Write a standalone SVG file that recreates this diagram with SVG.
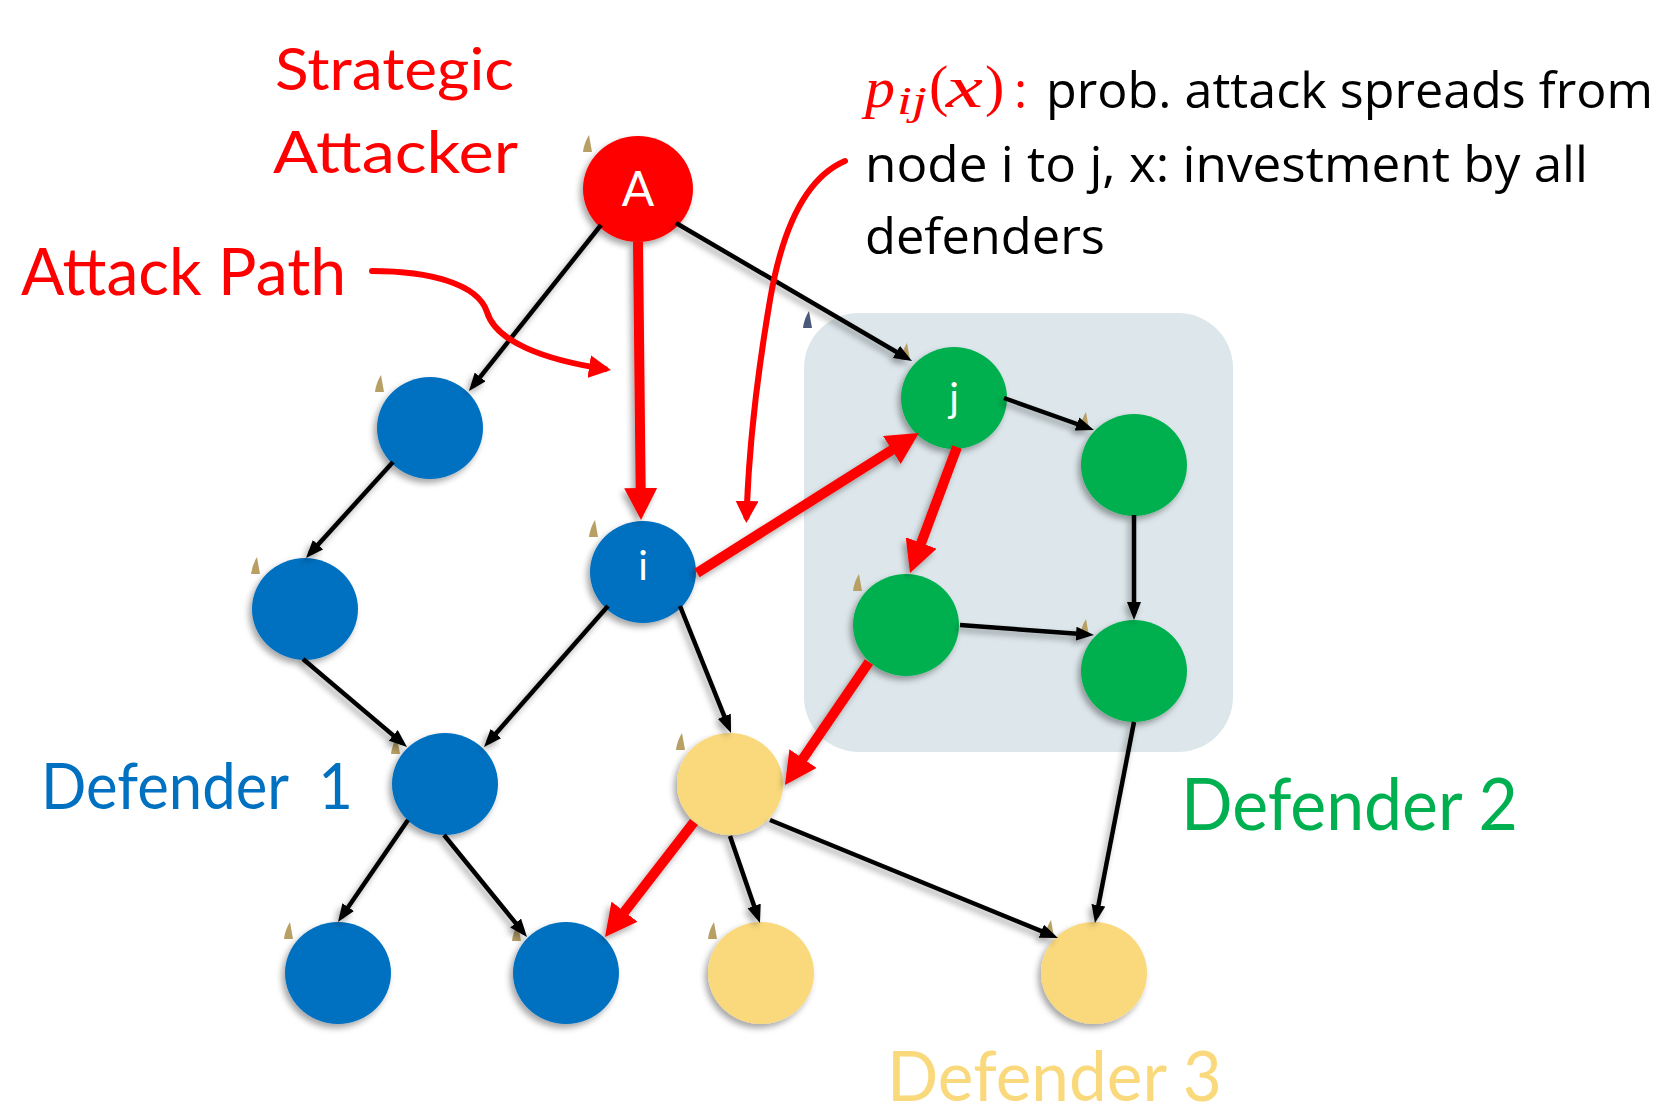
<svg xmlns="http://www.w3.org/2000/svg" xmlns:xlink="http://www.w3.org/1999/xlink" width="1666" height="1115" viewBox="0 0 1666 1115">
<style>
.lbl{font-family:Lato,"Open Sans","Liberation Sans",sans-serif;}
.nlab{font-family:Lato,"Open Sans","Liberation Sans",sans-serif;fill:#fff;text-anchor:middle;}
.blk{stroke:#000;stroke-width:4.5;fill:none;marker-end:url(#ab);}
.red{stroke:#FF0000;stroke-width:10;fill:none;marker-end:url(#ar);}
.ann{stroke:#FF0000;stroke-width:6;fill:none;stroke-linecap:round;marker-end:url(#aa);}
.blue{fill:#0070C0;}
.green{fill:#00B050;}
.yellow{fill:#FAD97C;}
.note{font-family:"Open Sans","Noto Sans","Liberation Sans",sans-serif;font-size:50px;fill:#000;}
.math{font-family:"Liberation Serif",serif;fill:#FF0000;}
.mk{fill:#B8A064;}
</style>
<defs>
<filter id="sh" x="-30%" y="-30%" width="160%" height="160%">
<feDropShadow dx="-3" dy="4" stdDeviation="3" flood-color="#000" flood-opacity="0.35"/>
</filter>
<marker id="ab" markerUnits="userSpaceOnUse" markerWidth="18" markerHeight="14" refX="12" refY="7" orient="auto">
<path d="M0,0 L18,7 L0,14 Z" fill="#000"/>
</marker>
<marker id="ar" markerUnits="userSpaceOnUse" markerWidth="32" markerHeight="33" refX="22" refY="16.5" orient="auto">
<path d="M0,0 L32,16.5 L0,33 Z" fill="#FF0000"/>
</marker>
<marker id="aa" markerUnits="userSpaceOnUse" markerWidth="22" markerHeight="23" refX="16" refY="11.5" orient="auto">
<path d="M0,0 L22,11.5 L0,23 Z" fill="#FF0000"/>
</marker>
<path id="mkp" d="M6,0 L9,17 L0,17 Q1,8 6,0 Z"/>
</defs>
<rect width="1666" height="1115" fill="#fff"/>

<g id="defender2-region">
<rect x="804" y="313" width="429" height="439" rx="55" ry="55" fill="#DDE7EB"/>
</g>

<g id="marks" class="mk">
<use href="#mkp" x="583" y="135"/>
<use href="#mkp" x="375" y="375"/>
<use href="#mkp" x="251" y="557"/>
<use href="#mkp" x="589" y="520"/>
<use href="#mkp" x="901" y="343"/>
<use href="#mkp" x="803" y="311" fill="#4B5A7A"/>
<use href="#mkp" x="1080" y="412"/>
<use href="#mkp" x="853" y="574"/>
<use href="#mkp" x="1080" y="619"/>
<use href="#mkp" x="676" y="733"/>
<use href="#mkp" x="391" y="737"/>
<use href="#mkp" x="284" y="922"/>
<use href="#mkp" x="512" y="924"/>
<use href="#mkp" x="708" y="922"/>
<use href="#mkp" x="1045" y="920"/>
</g>

<g id="nodes" filter="url(#sh)">
<g id="node-A"><ellipse cx="638" cy="189" rx="55" ry="53" fill="#FF0000"/></g>
<g id="node-b1"><ellipse class="blue" cx="430" cy="428" rx="53" ry="51"/></g>
<g id="node-b2"><ellipse class="blue" cx="305" cy="609" rx="53" ry="51"/></g>
<g id="node-i"><ellipse class="blue" cx="643" cy="572" rx="53" ry="51"/></g>
<g id="node-j"><ellipse class="green" cx="954" cy="398" rx="53" ry="51"/></g>
<g id="node-g2"><ellipse class="green" cx="1134" cy="465" rx="53" ry="51"/></g>
<g id="node-g3"><ellipse class="green" cx="906" cy="625" rx="53" ry="51"/></g>
<g id="node-g4"><ellipse class="green" cx="1134" cy="671" rx="53" ry="51"/></g>
<g id="node-b3"><ellipse class="blue" cx="445" cy="784" rx="53" ry="51"/></g>
<g id="node-y1"><ellipse class="yellow" cx="730" cy="784" rx="53" ry="51"/></g>
<g id="node-b4"><ellipse class="blue" cx="338" cy="973" rx="53" ry="51"/></g>
<g id="node-b5"><ellipse class="blue" cx="566" cy="973" rx="53" ry="51"/></g>
<g id="node-y2"><ellipse class="yellow" cx="761" cy="973" rx="53" ry="51"/></g>
<g id="node-y3"><ellipse class="yellow" cx="1094" cy="973" rx="53" ry="51"/></g>
</g>

<g id="node-labels">
<text class="nlab" x="638" y="206" font-size="48">A</text>
<text class="nlab" x="643" y="580" font-size="40">i</text>
<text class="nlab" x="954" y="412" font-size="40">j</text>
</g>

<g id="connectors" filter="url(#sh)">
<line class="blk" x1="601" y1="225" x2="472.7" y2="386.3"/>
<line class="blk" x1="676" y1="223" x2="906.8" y2="358"/>
<line class="blk" x1="393" y1="462" x2="310" y2="553.6"/>
<line class="blk" x1="303" y1="659" x2="402.4" y2="743.1"/>
<line class="blk" x1="608" y1="606" x2="488" y2="742.5"/>
<line class="blk" x1="680" y1="606" x2="728.8" y2="727.4"/>
<line class="blk" x1="1004" y1="398" x2="1088.3" y2="428"/>
<line class="blk" x1="1134" y1="515" x2="1134" y2="614"/>
<line class="blk" x1="960" y1="625" x2="1088" y2="634.6"/>
<line class="blk" x1="1134" y1="722" x2="1096.1" y2="917.1"/>
<line class="blk" x1="408" y1="820" x2="341.4" y2="917"/>
<line class="blk" x1="444" y1="835" x2="523.2" y2="932.3"/>
<line class="blk" x1="730" y1="836" x2="758" y2="917.3"/>
<line class="blk" x1="770" y1="820" x2="1052.4" y2="935.7"/>
<line class="red" x1="638" y1="242" x2="640.9" y2="510"/>
<line class="red" x1="697" y1="573" x2="910.5" y2="438.3"/>
<line class="red" x1="957" y1="447" x2="913.5" y2="563.6"/>
<line class="red" x1="869" y1="662" x2="790.6" y2="776.7"/>
<line class="red" x1="694" y1="822" x2="611.1" y2="929.1"/>
</g>

<g id="annotation-arrows">
<path class="ann" d="M372,271 C430,271 478,284 487,312 C496,342 545,360 605,369"/>
<path class="ann" d="M845,161 C805,178 782,230 770,300 C758,370 749,440 746.5,517"/>
</g>

<g id="labels">
<text class="lbl" x="275" y="90" font-size="59" fill="#FF0000" textLength="239" lengthAdjust="spacingAndGlyphs">Strategic</text>
<text class="lbl" x="273" y="173" font-size="59" fill="#FF0000" textLength="245" lengthAdjust="spacingAndGlyphs">Attacker</text>
<text class="lbl" x="21" y="295" font-size="65" fill="#FF0000" textLength="325" lengthAdjust="spacingAndGlyphs">Attack Path</text>
<text class="lbl" x="41" y="809" font-size="64" fill="#0070C0" textLength="312" lengthAdjust="spacingAndGlyphs" xml:space="preserve">Defender  1</text>
<text class="lbl" x="1181" y="830" font-size="72" fill="#00B050" textLength="337" lengthAdjust="spacingAndGlyphs">Defender 2</text>
<text class="lbl" x="887" y="1101" font-size="70" fill="#FAD97C" textLength="335" lengthAdjust="spacingAndGlyphs">Defender 3</text>
</g>

<g id="note">
<text class="math" x="865" y="107" font-size="58" font-style="italic" textLength="30" lengthAdjust="spacingAndGlyphs">p</text>
<text class="math" x="897" y="114" font-size="40" font-style="italic" textLength="30" lengthAdjust="spacingAndGlyphs">ij</text>
<text class="math" x="929" y="105" font-size="58">(</text>
<text class="math" x="946" y="107" font-size="60" font-style="italic" textLength="37" lengthAdjust="spacingAndGlyphs">x</text>
<text class="math" x="985" y="105" font-size="58">)</text>
<text class="note" x="1014" y="108" style="fill:#FF0000">:</text>
<text class="note" x="1046" y="108" textLength="607" lengthAdjust="spacingAndGlyphs">prob. attack spreads from</text>
<text class="note" x="865" y="182" textLength="723" lengthAdjust="spacingAndGlyphs">node i to j, x: investment by all</text>
<text class="note" x="865" y="254" textLength="240" lengthAdjust="spacingAndGlyphs">defenders</text>
</g>
</svg>
